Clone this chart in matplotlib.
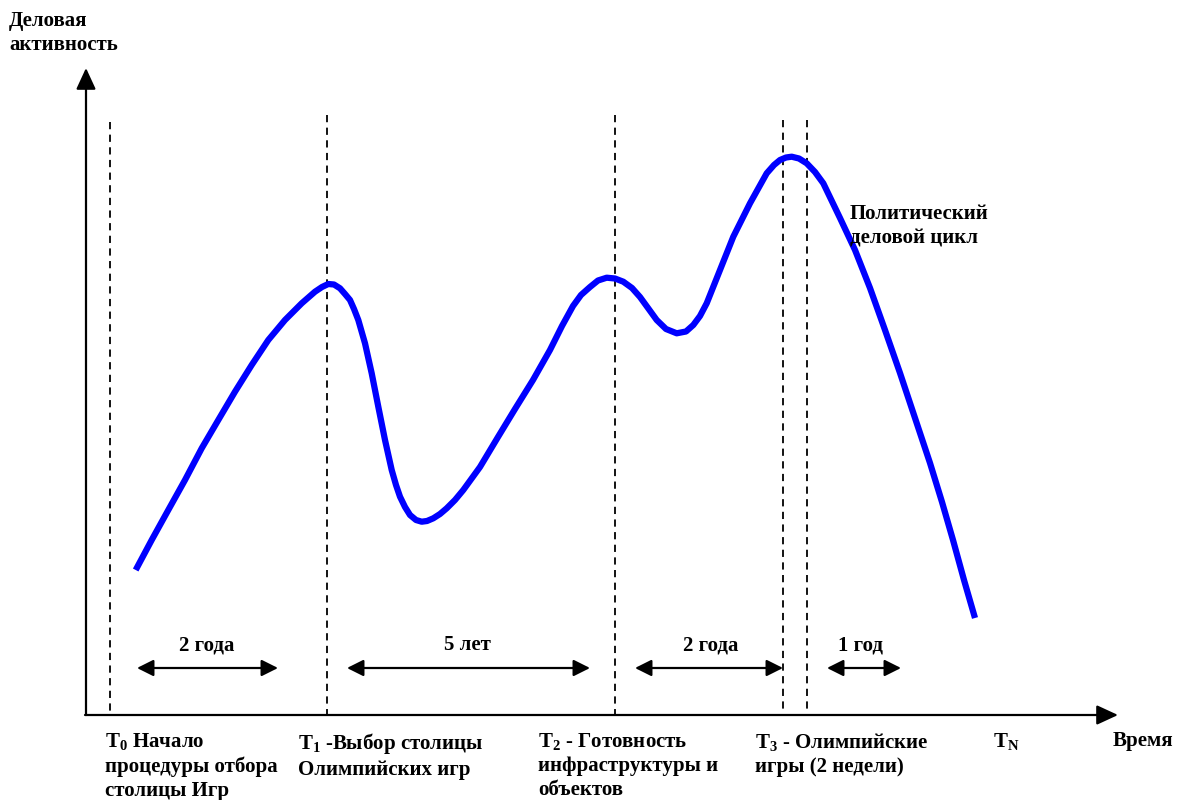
import numpy as np
import matplotlib.pyplot as plt
from matplotlib.patches import FancyArrowPatch

plt.rcParams['font.family'] = ['Liberation Serif', 'DejaVu Serif']
plt.rcParams['font.weight'] = 'bold'
plt.rcParams['mathtext.fontset'] = 'custom'
plt.rcParams['mathtext.rm'] = 'Liberation Serif:bold'
plt.rcParams['mathtext.it'] = 'Liberation Serif:bold'
plt.rcParams['mathtext.bf'] = 'Liberation Serif:bold'
plt.rcParams['mathtext.default'] = 'rm'

# curve points (pixel coords, y down)
curve_x = [135.7, 151.7, 168.3, 185, 201.7, 218.3, 235, 251.7, 268.3, 285, 301.7, 315,
           322, 328.3, 334, 340, 345, 350, 354, 358.3, 365, 371.7, 378.3, 385, 391.7,
           396, 400, 405, 410, 416, 421.7, 427, 433.3, 440, 446.7, 455, 463.3, 480,
           498, 515, 533, 550, 562, 573, 581, 590, 598, 606.7, 615, 623.3, 632, 640,
           648, 656.7, 666, 676.7, 686, 693.3, 700, 706.7, 720, 733.3, 750, 766.7,
           774, 780, 786, 791.7, 799, 806.7, 815, 823.3, 840, 855, 870, 885, 900,
           915, 930, 942, 953, 964, 975]
curve_y = [570, 540, 510, 480, 448.3, 420, 391.7, 365, 340, 320, 303.3, 291.7,
           287, 284, 284.5, 288.3, 294, 300, 309, 320, 343.3, 373.3, 406.7, 440, 470,
           485, 496.7, 507, 515, 520, 521.7, 521, 518.3, 514, 508.3, 500, 490, 467,
           437, 409, 380, 350, 326, 306, 295, 287, 280.5, 277.7, 278.5, 281.7, 288, 297,
           308, 320, 329, 333.3, 331.5, 325, 316, 303.3, 270, 236.7, 203.3, 173.3,
           165, 160, 157.5, 156.7, 158.5, 163.3, 172, 183.3, 218, 250, 288, 330, 373,
           418, 463, 502, 540, 580, 618]

# event markers
event_x = [110, 327, 615, 783, 807]
event_top = [122, 115, 115, 120, 120]

# time spans
span_labels = ['2 года', '5 лет', '2 года', '1 год']
span_start = [137, 347, 635, 827]
span_end = [278, 590, 783, 901]
span_text_x = [207, 467, 711, 860]

# labels under the time axis
event_labels = ['T$_0$ Начало\nпроцедуры отбора\nстолицы Игр',
                'T$_1$ -Выбор столицы\nОлимпийских игр',
                'T$_2$ - Готовность\nинфраструктуры и\nобъектов',
                'T$_3$ - Олимпийские\nигры (2 недели)',
                'T$_N$',
                'Время']
event_label_x = [105, 298, 538, 755, 993, 1113]

fig = plt.figure(figsize=(11.81, 8), dpi=100)
ax = fig.add_axes([0, 0, 1, 1])
ax.set_xlim(0, 1181)
ax.set_ylim(800, 0)
ax.axis('off')

# axes with arrowheads
x0, y0 = 86, 715
ax.add_patch(FancyArrowPatch((x0, y0), (x0, 68), arrowstyle='-|>,head_length=0.65,head_width=0.3',
                             mutation_scale=20, color='black', lw=1.6, shrinkA=0, shrinkB=0))
ax.add_patch(FancyArrowPatch((x0 - 1, y0), (1118, y0), arrowstyle='-|>,head_length=0.65,head_width=0.3',
                             mutation_scale=20, color='black', lw=1.6, shrinkA=0, shrinkB=0))

for x, t in zip(event_x, event_top):
    ax.plot([x, x], [t, y0], color='black', lw=1.3, linestyle=(0, (4, 3)))

ax.plot(curve_x, curve_y, color='#0000ff', lw=4.5, solid_joinstyle='round', solid_capstyle='butt')

fs = 15
for lab, s, e, tx in zip(span_labels, span_start, span_end, span_text_x):
    ax.add_patch(FancyArrowPatch((s, 668), (e, 668), arrowstyle='<|-|>,head_length=0.5,head_width=0.25',
                                 mutation_scale=20, color='black', lw=1.6, shrinkA=0, shrinkB=0))
    ax.text(tx, 645, lab, fontsize=fs, ha='center', va='center')

ax.text(9, 11, 'Деловая\nактивность', fontsize=fs, ha='left', va='top', linespacing=1.27)
ax.text(850, 204, 'Политический\nделовой цикл', fontsize=fs, ha='left', va='top', linespacing=1.27)

for lab, x in zip(event_labels, event_label_x):
    ax.text(x, 731, lab, fontsize=fs, ha='left', va='top', linespacing=1.27)

fig.savefig('out.png', dpi=100)
